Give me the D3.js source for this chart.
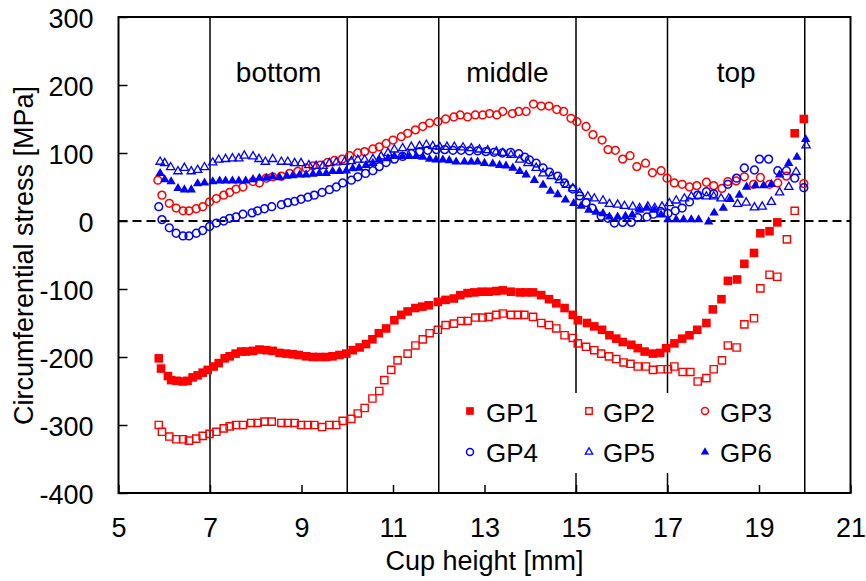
<!DOCTYPE html>
<html><head><meta charset="utf-8">
<script src="https://cdn.jsdelivr.net/npm/d3@7"></script>
<style>
body{margin:0;background:#fff;}
text{font-family:"Liberation Sans",Arial,sans-serif;fill:#000;}
</style></head>
<body><svg id="chart" width="866" height="581"></svg>
<script>
// ---- data ----
const xTicks = [5,7,9,11,13,15,17,19,21];
const yTicks = [-400,-300,-200,-100,0,100,200,300];
const sectionLines = [7,10,12,15,17,20];
const sectionNames = ["bottom","middle","top"];
const sectionCenters = [8.5,13.5,18.5];

const gp1X = [5.88,5.93,6.08,6.15,6.27,6.41,6.51,6.62,6.73,6.84,6.95,7.08,7.19,7.32,7.43,7.56,7.68,7.79,7.94,8.08,8.23,8.37,8.52,8.67,8.81,8.94,9.10,9.25,9.39,9.54,9.68,9.83,9.98,10.12,10.27,10.41,10.55,10.69,10.85,11.03,11.18,11.32,11.49,11.64,11.78,11.98,12.15,12.33,12.47,12.63,12.78,12.93,13.09,13.26,13.40,13.58,13.77,13.91,14.06,14.24,14.41,14.57,14.75,14.93,15.04,15.24,15.40,15.57,15.73,15.88,16.02,16.21,16.35,16.50,16.68,16.84,16.97,17.15,17.32,17.48,17.65,17.85,17.99,18.18,18.32,18.52,18.68,18.89,19.03,19.23,19.40,19.78,19.98];
const gp1Y = [-202,-217,-228,-234,-235,-236,-235,-230,-227,-223,-219,-214,-209,-202,-199,-195,-192,-192,-191,-189,-190,-191,-194,-195,-196,-197,-199,-200,-200,-200,-199,-197,-195,-190,-186,-181,-174,-165,-158,-146,-138,-133,-128,-126,-124,-119,-116,-114,-109,-106,-105,-104,-104,-103,-102,-104,-105,-105,-105,-109,-115,-121,-128,-138,-146,-150,-155,-160,-168,-173,-178,-182,-187,-192,-195,-194,-187,-180,-173,-168,-160,-150,-130,-115,-88,-86,-63,-47,-18,-15,-2,129,150];

const gp2X = [5.88,5.95,6.11,6.26,6.41,6.54,6.70,6.84,6.99,7.14,7.30,7.43,7.57,7.72,7.90,8.04,8.19,8.35,8.56,8.70,8.85,8.99,9.14,9.28,9.45,9.61,9.76,9.90,10.09,10.23,10.38,10.55,10.70,10.81,10.96,11.10,11.32,11.49,11.65,11.80,11.98,12.15,12.33,12.49,12.63,12.80,12.96,13.09,13.26,13.40,13.58,13.73,13.87,14.06,14.24,14.41,14.57,14.75,14.93,15.04,15.22,15.40,15.55,15.72,15.88,16.04,16.19,16.35,16.53,16.68,16.85,17.01,17.15,17.33,17.50,17.66,17.85,18.01,18.19,18.32,18.51,18.68,18.89,19.03,19.23,19.40,19.61,19.78];
const gp2Y = [-300,-310,-317,-321,-321,-323,-320,-316,-313,-310,-305,-302,-300,-300,-297,-297,-295,-295,-297,-297,-297,-300,-300,-300,-303,-300,-300,-294,-291,-283,-275,-261,-250,-234,-219,-205,-195,-183,-174,-165,-160,-153,-151,-147,-147,-142,-142,-141,-138,-136,-138,-138,-138,-141,-150,-153,-158,-168,-172,-180,-185,-190,-195,-199,-203,-208,-210,-214,-214,-219,-218,-218,-214,-222,-222,-236,-231,-218,-205,-183,-186,-152,-143,-99,-79,-82,-27,15];

const gp3X = [5.86,5.95,6.11,6.26,6.41,6.54,6.70,6.84,6.99,7.14,7.30,7.43,7.57,7.72,7.94,8.08,8.23,8.37,8.56,8.74,8.92,9.10,9.25,9.41,9.57,9.72,9.89,10.05,10.23,10.38,10.56,10.70,10.85,11.00,11.18,11.32,11.49,11.65,11.80,11.98,12.15,12.33,12.47,12.63,12.80,12.96,13.11,13.27,13.40,13.61,13.75,13.91,14.07,14.24,14.41,14.58,14.73,14.89,15.02,15.22,15.37,15.57,15.70,15.86,16.02,16.18,16.33,16.52,16.67,16.86,16.99,17.15,17.32,17.48,17.64,17.85,18.01,18.19,18.32,18.50,18.68,18.88,19.03,19.23,19.41,19.60,19.98];
const gp3Y = [60,38,26,19,15,15,18,21,28,33,38,42,47,50,58,56,63,65,66,70,73,78,81,82,86,89,91,96,100,102,106,109,114,119,124,129,134,139,144,146,150,153,156,153,156,156,158,156,161,158,161,161,172,169,169,164,161,151,146,139,127,119,105,104,91,96,80,85,71,74,63,56,54,50,52,57,52,48,58,59,65,54,64,54,56,66,55];

const gp4X = [5.88,5.95,6.11,6.26,6.41,6.54,6.70,6.84,6.99,7.14,7.30,7.43,7.57,7.72,7.92,8.04,8.19,8.35,8.56,8.70,8.85,8.99,9.14,9.28,9.45,9.61,9.76,9.90,10.09,10.23,10.40,10.56,10.70,10.85,11.03,11.21,11.40,11.58,11.76,11.95,12.13,12.31,12.49,12.67,12.85,13.03,13.21,13.39,13.57,13.75,13.88,13.98,14.13,14.28,14.42,14.60,14.75,14.93,15.08,15.22,15.35,15.55,15.70,15.84,16.02,16.21,16.35,16.55,16.69,16.85,17.01,17.17,17.32,17.48,17.66,17.85,18.01,18.32,18.51,18.68,18.90,19.01,19.21,19.41,19.60,19.78,19.98];
const gp4Y = [21,2,-10,-18,-22,-22,-18,-14,-8,-3,0,4,6,10,12,15,18,21,24,27,29,32,35,38,42,46,50,56,60,65,70,74,80,86,91,95,99,102,104,105,105,104,104,103,103,102,101,100,101,99,94,90,85,78,72,66,56,47,37,27,19,7,4,-3,-2,-2,5,6,10,14,11,15,19,28,38,43,40,54,63,78,75,91,91,74,74,63,49];

const gp5X = [5.91,6.01,6.14,6.30,6.44,6.59,6.73,6.88,7.06,7.19,7.34,7.49,7.63,7.75,7.94,8.07,8.21,8.37,8.56,8.70,8.85,8.99,9.16,9.32,9.47,9.61,9.76,9.94,10.09,10.23,10.38,10.56,10.74,10.89,11.03,11.21,11.40,11.58,11.73,11.87,12.02,12.18,12.34,12.53,12.71,12.89,13.07,13.26,13.40,13.58,13.77,13.95,14.13,14.28,14.46,14.64,14.79,14.93,15.08,15.26,15.40,15.59,15.73,15.91,16.06,16.24,16.39,16.57,16.72,16.88,17.04,17.19,17.37,17.52,17.68,17.85,18.01,18.17,18.34,18.53,18.72,18.90,19.07,19.27,19.45,19.65,19.81,20.03];
const gp5Y = [87,85,79,73,78,73,75,79,86,90,91,92,92,96,95,91,87,91,87,87,85,85,82,81,81,85,86,87,88,90,90,91,95,100,105,107,109,110,112,110,109,109,109,108,107,105,104,102,100,97,90,85,78,70,66,60,53,48,41,36,33,30,25,24,22,21,19,21,19,21,26,30,33,36,37,36,36,33,33,25,27,20,21,28,42,50,72,111];

const gp6X = [5.91,6.01,6.15,6.30,6.44,6.59,6.73,6.88,7.06,7.21,7.34,7.49,7.63,7.78,7.94,8.08,8.23,8.37,8.52,8.68,8.81,8.96,9.10,9.25,9.39,9.54,9.68,9.83,9.98,10.12,10.26,10.41,10.56,10.70,10.89,11.03,11.21,11.36,11.51,11.65,11.80,11.94,12.09,12.23,12.38,12.56,12.71,12.85,13.00,13.18,13.33,13.47,13.62,13.77,13.91,14.09,14.28,14.44,14.60,14.77,14.95,15.11,15.28,15.44,15.59,15.73,15.91,16.08,16.23,16.39,16.55,16.72,16.86,17.01,17.19,17.35,17.52,17.68,17.90,18.02,18.22,18.37,18.57,18.73,18.92,19.10,19.27,19.45,19.65,19.83,20.02];
const gp6Y = [70,61,58,48,46,46,55,56,58,59,59,59,59,59,61,63,63,65,64,66,67,68,68,69,70,70,73,73,74,77,78,82,85,90,92,95,95,95,95,94,91,90,90,89,87,87,87,87,85,84,82,81,78,73,68,60,53,44,39,31,26,22,16,13,11,6,6,7,9,16,19,16,9,2,2,2,2,2,-1,12,19,32,38,50,52,52,54,68,85,94,120];

const seriesNames = ["GP1","GP2","GP3","GP4","GP5","GP6"];

// ---- layout ----
const svg = d3.select("#chart");
const L = 118.5, R = 850.5, T = 17, B = 493;
const x = d3.scaleLinear().domain([5,21]).range([L,R]);
const y = d3.scaleLinear().domain([-400,300]).range([B,T]);
const FS = 27;

const RED = "#ff0000", BLUE = "#0000ff";
const styles = [
  {type:d3.symbolSquare, size:74, fill:RED, stroke:"none", sw:0},
  {type:d3.symbolSquare, size:52, fill:"none", stroke:RED, sw:1.4},
  {type:d3.symbolCircle, size:Math.PI*3.9*3.9, fill:"none", stroke:RED, sw:1.5},
  {type:d3.symbolCircle, size:Math.PI*3.9*3.9, fill:"none", stroke:BLUE, sw:1.5},
  {type:d3.symbolTriangle, size:30, fill:"none", stroke:BLUE, sw:1.3},
  {type:d3.symbolTriangle, size:38, fill:BLUE, stroke:"none", sw:0}
];
const data = [[gp1X,gp1Y],[gp2X,gp2Y],[gp3X,gp3Y],[gp4X,gp4Y],[gp5X,gp5Y],[gp6X,gp6Y]];

// section lines
svg.append("g").selectAll("line").data(sectionLines).join("line")
  .attr("x1",d=>x(d)).attr("x2",d=>x(d)).attr("y1",T).attr("y2",B)
  .attr("stroke","#000").attr("stroke-width",1.5);

// zero dashed line
svg.append("line").attr("x1",L).attr("x2",R).attr("y1",y(0)).attr("y2",y(0))
  .attr("stroke","#000").attr("stroke-width",2).attr("stroke-dasharray","9,5");

// section labels
svg.append("g").selectAll("text").data(sectionNames).join("text")
  .attr("x",(d,i)=>x(sectionCenters[i])).attr("y",82)
  .attr("text-anchor","middle").style("font-size","28px").text(d=>d);

// legend background
svg.append("rect").attr("x",450).attr("y",393).attr("width",345).attr("height",80).attr("fill","#fff");

// axes
const fmt = d => String(d);
const gx = svg.append("g").attr("transform",`translate(0,${B})`)
  .call(d3.axisBottom(x).tickValues(xTicks).tickFormat(fmt).tickSizeInner(-8).tickSizeOuter(0).tickPadding(25));
const gy = svg.append("g").attr("transform",`translate(${L},0)`)
  .call(d3.axisLeft(y).tickValues(yTicks).tickFormat(fmt).tickSizeInner(-9).tickSizeOuter(0).tickPadding(25));
[gx,gy].forEach(g=>{
  g.select(".domain").remove();
  g.selectAll(".tick line").attr("stroke","#000").attr("stroke-width",1.5);
  g.selectAll(".tick text").style("font-size",FS+"px").attr("font-family",null).attr("fill","#000");
});
gy.selectAll(".tick text").attr("dy","0.4em");

// frame
svg.append("rect").attr("x",L).attr("y",T).attr("width",R-L).attr("height",B-T)
  .attr("fill","none").attr("stroke","#000").attr("stroke-width",2);

// series
data.forEach((d,i)=>{
  const st = styles[i];
  const pts = d[0].map((xv,j)=>[xv,d[1][j]]);
  const sym = d3.symbol().type(st.type).size(st.size);
  svg.append("g").selectAll("path").data(pts).join("path")
    .attr("d",sym)
    .attr("transform",p=>`translate(${x(p[0])},${y(p[1])})`)
    .attr("fill",st.fill).attr("stroke",st.stroke).attr("stroke-width",st.sw);
});

// legend
const legX = [470,589,705], legTX = [486,603,720], legY = [411,452], legBase=[421.5,461.5];
seriesNames.forEach((nm,i)=>{
  const c = i%3, r = Math.floor(i/3), st = styles[i];
  svg.append("path").attr("d",d3.symbol().type(st.type).size(st.size*0.8)())
    .attr("transform",`translate(${legX[c]},${legY[r]})`)
    .attr("fill",st.fill).attr("stroke",st.stroke).attr("stroke-width",st.sw);
  svg.append("text").attr("x",legTX[c]).attr("y",legBase[r]).style("font-size","26px").text(nm);
});

// axis titles
svg.append("text").attr("x",(L+R)/2).attr("y",570).attr("text-anchor","middle")
  .style("font-size","27px").text("Cup height [mm]");
svg.append("text").attr("transform","translate(33,255.5) rotate(-90)").attr("text-anchor","middle")
  .style("font-size","27px").text("Circumferential stress [MPa]");
</script></body></html>
